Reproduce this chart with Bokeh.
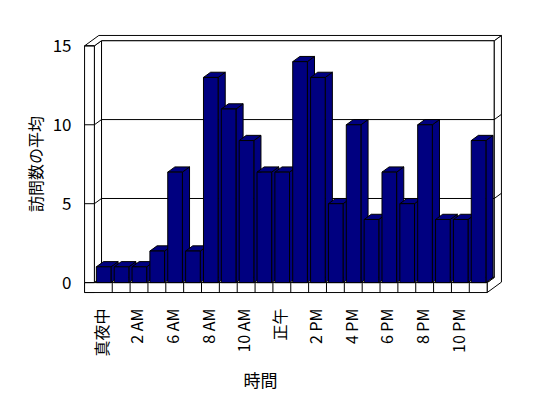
import math
from bokeh.plotting import figure
from bokeh.models import FixedTicker, Range1d, Title
from bokeh.embed import file_html
from bokeh.resources import INLINE

# ---- data ----
categories = ["真夜中", "1 AM", "2 AM", "5 AM", "6 AM", "7 AM", "8 AM", "9 AM",
              "10 AM", "11 AM", "正午", "1 PM", "2 PM", "3 PM", "4 PM", "5 PM",
              "6 PM", "7 PM", "8 PM", "9 PM", "10 PM", "11 PM"]
visits = [1, 1, 1, 2, 7, 2, 13, 11, 9, 7, 7, 14, 13, 5, 10, 4, 7, 5, 10, 4, 4, 9]
y_ticks = [0, 5, 10, 15]
x_title = "時間"
y_title = "訪問数の平均"

# ---- geometry (style) ----
N = len(categories)
YMAX = 15
dx, dy = 0.4, 0.33      # depth offset
wx, fy = 0.55, 0.63     # wall / floor thickness
pad = 0.06
bw = 0.82               # bar width
boff = 0.02             # bar offset in slot
NAVY = "#000080"
FONT = "Noto Sans CJK JP"

x0, x1 = -wx - pad, N + 2 * dx + pad
y0, y1 = -fy - pad, YMAX + 2 * dy + pad

p = figure(width=546, height=396, output_backend="svg", toolbar_location=None,
           x_range=Range1d(x0, x1), y_range=Range1d(y0, y1),
           min_border_left=83, min_border_right=44, min_border_top=34,
           min_border_bottom=103)
p.outline_line_color = None
p.grid.visible = False
p.background_fill_color = "white"
p.border_fill_color = "white"

wall = dict(fill_color="white", line_color="black", line_width=1)

# back wall inner face
p.patch([dx, N + dx, N + dx, dx], [dy, dy, YMAX + dy, YMAX + dy], **wall)
# left wall inner face
p.patch([0, 0, dx, dx], [0, YMAX, YMAX + dy, dy], **wall)
# right side face (floor end + back wall edge)
p.patch([N, N, N + dx, N + dx, N + 2 * dx, N + 2 * dx],
        [-fy, 0, dy, YMAX + dy, YMAX + 2 * dy, -fy + 2 * dy], **wall)
# floor top
p.patch([0, N, N + dx, dx], [0, 0, dy, dy], **wall)
# top edge of walls
p.patch([-wx, -wx + 2 * dx, N + 2 * dx, N + dx, dx, 0],
        [YMAX, YMAX + 2 * dy, YMAX + 2 * dy, YMAX + dy, YMAX + dy, YMAX], **wall)

# gridlines
gx, gy = [], []
for v in y_ticks:
    if 0 < v < YMAX:
        gx.append([0, dx, N + dx, N + 2 * dx])
        gy.append([v, v + dy, v + dy, v + 2 * dy])
p.multi_line(gx, gy, line_color="black", line_width=1)

# left wall front face & floor front face
p.quad(left=[-wx], right=[0], bottom=[-fy], top=[YMAX], fill_color="white",
       line_color="black")
p.quad(left=[-wx], right=[N], bottom=[-fy], top=[0], fill_color="white",
       line_color="black")
# tick lines across the wall slab
p.multi_line([[-wx, 0] for v in y_ticks], [[v, v] for v in y_ticks],
             line_color="black")
# category dividers on floor front
p.multi_line([[i, i] for i in range(1, N)], [[-fy, 0] for i in range(1, N)],
             line_color="black")

# bars
lefts = [i + 0.5 + boff - bw / 2 for i in range(N)]
rights = [i + 0.5 + boff + bw / 2 for i in range(N)]
side_xs = [[r, r, r + dx, r + dx] for r in rights]
side_ys = [[0, h, h + dy, dy] for h in visits]
top_xs = [[l, r, r + dx, l + dx] for l, r in zip(lefts, rights)]
top_ys = [[h, h, h + dy, h + dy] for h in visits]
p.patches(side_xs, side_ys, fill_color=NAVY, line_color="black")
p.patches(top_xs, top_ys, fill_color=NAVY, line_color="black")
p.quad(left=lefts, right=rights, bottom=0, top=visits, fill_color=NAVY,
       line_color="black")

# axes
p.yaxis.ticker = FixedTicker(ticks=y_ticks)
p.yaxis.axis_line_color = None
p.yaxis.major_tick_line_color = None
p.yaxis.minor_tick_line_color = None
p.yaxis.major_label_standoff = 6
p.yaxis.major_label_text_font = FONT
p.yaxis.major_label_text_font_size = "17px"
p.yaxis.major_label_text_color = "black"
p.yaxis.axis_label = y_title
p.yaxis.axis_label_text_font = FONT
p.yaxis.axis_label_text_font_size = "16px"
p.yaxis.axis_label_text_font_style = "normal"
p.yaxis.axis_label_text_color = "black"
p.yaxis.axis_label_standoff = 3

xt = [i + 0.35 for i in range(0, N, 2)]
p.xaxis.ticker = FixedTicker(ticks=xt)
p.xaxis.major_label_overrides = {t: categories[i] for t, i in zip(xt, range(0, N, 2))}
p.xaxis.major_label_orientation = math.pi / 2
p.xaxis.axis_line_color = None
p.xaxis.major_tick_line_color = None
p.xaxis.minor_tick_line_color = None
p.xaxis.major_label_standoff = 9
p.xaxis.major_label_text_font = FONT
p.xaxis.major_label_text_font_size = "16px"
p.xaxis.major_label_text_color = "black"

p.add_layout(Title(text=x_title, align="left", offset=160, standoff=10,
                   text_font=FONT, text_font_size="17px",
                   text_font_style="normal", text_color="black"), "below")

open("out.html", "w").write(file_html(p, INLINE))
